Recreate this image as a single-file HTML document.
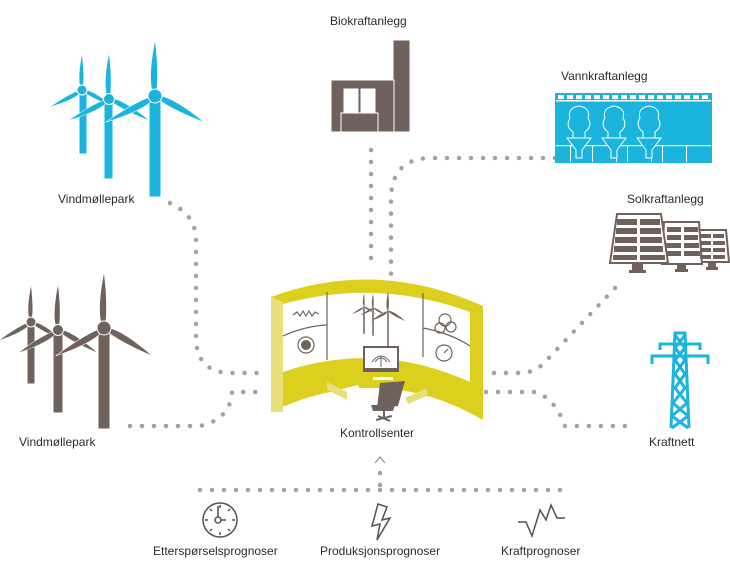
<!DOCTYPE html>
<html><head><meta charset="utf-8"><style>
html,body{margin:0;padding:0;background:#fff;}
svg{display:block;}
text{font-family:"Liberation Sans",sans-serif;font-size:12px;fill:#2f2a28;}
</style></head><body>
<svg width="730" height="572" viewBox="0 0 730 572" xmlns="http://www.w3.org/2000/svg">
<defs>
<path id="bl" d="M0,0 C-12,-12 -9,-55 0,-100 C6,-55 6,-12 0,0Z"/>
</defs>
<g fill="none" stroke="#a8a09c" stroke-width="4.5" stroke-linecap="round" stroke-dasharray="0 12">
<path d="M170,203 Q196,215 196,240 L196,337 Q196,373 232,373 L266,373"/>
<path d="M130,426 L200,426 Q228,420 232,395 L232,392 L266,392"/>
<path d="M371,150 L371,268"/>
<path d="M555,158 L428,158 Q391,160 391,200 L391,276"/>
<path d="M615,288 L545,362 Q535,373 520,373 L486,373"/>
<path d="M486,392 L535,392 Q555,398 565,426 L632,426"/>
<path d="M200,490 L570,490"/>
<path d="M380,485 L380,466"/>
</g>
<path d="M375,463 L380,457 L385,463" fill="none" stroke="#a8a09c" stroke-width="1.5"/>

<g fill="#1ab4dc" stroke="#fff" stroke-width="1">
<rect x="79" y="88" width="8" height="66"/>
<g transform="translate(82,90)"><use href="#bl" transform="scale(0.36)"/><use href="#bl" transform="rotate(-118) scale(0.36)"/><use href="#bl" transform="rotate(118) scale(0.36)"/></g>
<circle cx="82" cy="90" r="5"/>
<rect x="104" y="97" width="9" height="82"/>
<g transform="translate(109,99)"><use href="#bl" transform="scale(0.46)"/><use href="#bl" transform="rotate(-118) scale(0.46)"/><use href="#bl" transform="rotate(118) scale(0.46)"/></g>
<circle cx="109" cy="99" r="5.5"/>
<rect x="149" y="95" width="12" height="102"/>
<g transform="translate(155,96)"><use href="#bl" transform="scale(0.56)"/><use href="#bl" transform="rotate(-118) scale(0.56)"/><use href="#bl" transform="rotate(118) scale(0.56)"/></g>
<circle cx="155" cy="96" r="7"/>
</g>
<text x="58" y="203">Vindmøllepark</text>

<g fill="#6f625d" stroke="#fff" stroke-width="1">
<rect x="27" y="320" width="8" height="64"/>
<g transform="translate(31,322)"><use href="#bl" transform="scale(0.37)"/><use href="#bl" transform="rotate(-120) scale(0.37)"/><use href="#bl" transform="rotate(120) scale(0.37)"/></g>
<circle cx="31" cy="322" r="5"/>
<rect x="53" y="330" width="10" height="83"/>
<g transform="translate(58,330)"><use href="#bl" transform="scale(0.46)"/><use href="#bl" transform="rotate(-120) scale(0.46)"/><use href="#bl" transform="rotate(120) scale(0.46)"/></g>
<circle cx="58" cy="330" r="5.5"/>
<rect x="98" y="328" width="12" height="101"/>
<g transform="translate(104,328)"><use href="#bl" transform="scale(0.56)"/><use href="#bl" transform="rotate(-120) scale(0.56)"/><use href="#bl" transform="rotate(120) scale(0.56)"/></g>
<circle cx="104" cy="328" r="7"/>
</g>
<text x="19" y="446">Vindmøllepark</text>

<text x="330" y="25">Biokraftanlegg</text>
<g fill="#6f625d" stroke="#fff" stroke-width="1">
<rect x="393" y="40" width="17" height="92"/>
<rect x="331" y="80" width="63" height="52"/>
<rect x="344" y="89" width="14" height="28" fill="#fff"/>
<rect x="361" y="89" width="14" height="28" fill="#fff"/>
<rect x="341" y="113" width="37" height="19"/>
</g>

<text x="561" y="80">Vannkraftanlegg</text>
<rect x="555" y="93" width="157" height="70" fill="#1ab4dc"/>
<g fill="#fff">
<rect x="556" y="100" width="155" height="1.5"/>
<rect x="556" y="145" width="155" height="1.2"/>
<rect x="570" y="146" width="1" height="16"/><rect x="592" y="146" width="1" height="16"/><rect x="616" y="146" width="1" height="16"/><rect x="627" y="146" width="1" height="16"/><rect x="651" y="146" width="1" height="16"/><rect x="662" y="146" width="1" height="16"/><rect x="686" y="146" width="1" height="16"/>
</g>
<g fill="#fff">
<rect x="558" y="95" width="6" height="4"/><rect x="567" y="95" width="6" height="4"/><rect x="576" y="95" width="6" height="4"/><rect x="585" y="95" width="6" height="4"/><rect x="594" y="95" width="6" height="4"/><rect x="603" y="95" width="6" height="4"/><rect x="612" y="95" width="6" height="4"/><rect x="621" y="95" width="6" height="4"/><rect x="630" y="95" width="6" height="4"/><rect x="639" y="95" width="6" height="4"/><rect x="648" y="95" width="6" height="4"/><rect x="657" y="95" width="6" height="4"/><rect x="666" y="95" width="6" height="4"/><rect x="675" y="95" width="6" height="4"/><rect x="684" y="95" width="6" height="4"/><rect x="693" y="95" width="6" height="4"/><rect x="702" y="95" width="6" height="4"/>
</g>
<g fill="none" stroke="#fff" stroke-width="1">
<path d="M573,140 L573,132 Q565,126 570,118 Q567,108 579,106 Q591,108 588,118 Q593,126 585,132 L585,140"/>
<path d="M608,140 L608,132 Q600,126 605,118 Q602,108 614,106 Q626,108 623,118 Q628,126 620,132 L620,140"/>
<path d="M643,140 L643,132 Q635,126 640,118 Q637,108 649,106 Q661,108 658,118 Q663,126 655,132 L655,140"/>
</g>
<g>
<path d="M567,138 L591,138 L582,150 L582,158 L576,158 L576,150Z" fill="#1ab4dc" stroke="#fff"/>
<path d="M602,138 L626,138 L617,150 L617,158 L611,158 L611,150Z" fill="#1ab4dc" stroke="#fff"/>
<path d="M637,138 L661,138 L652,150 L652,158 L646,158 L646,150Z" fill="#1ab4dc" stroke="#fff"/>
</g>

<text x="627" y="203">Solkraftanlegg</text>
<g stroke="#6f625d" stroke-width="2" fill="#fff">
<path d="M698,230 L726,230 L729,262 L697,262Z"/>
<path d="M664,222 L699,222 L702,264 L662,264Z"/>
<path d="M617,214 L661,214 L668,263 L610,263Z"/>
</g>
<g fill="#6f625d">
<rect x="617" y="219" width="20" height="6"/><rect x="640" y="219" width="20" height="6"/>
<rect x="616" y="228" width="21" height="6"/><rect x="640" y="228" width="21" height="6"/>
<rect x="615" y="237" width="22" height="6"/><rect x="640" y="237" width="22" height="6"/>
<rect x="614" y="246" width="23" height="6"/><rect x="640" y="246" width="23" height="6"/>
<rect x="613" y="255" width="24" height="5"/><rect x="640" y="255" width="25" height="5"/>
<rect x="667" y="227" width="14" height="5"/><rect x="684" y="227" width="14" height="5"/>
<rect x="667" y="235" width="14" height="5"/><rect x="684" y="235" width="14" height="5"/>
<rect x="666" y="243" width="15" height="5"/><rect x="684" y="243" width="15" height="5"/>
<rect x="666" y="251" width="15" height="5"/><rect x="684" y="251" width="16" height="5"/>
<rect x="700" y="234" width="11" height="4"/><rect x="713" y="234" width="11" height="4"/>
<rect x="700" y="241" width="11" height="4"/><rect x="713" y="241" width="12" height="4"/>
<rect x="700" y="248" width="11" height="4"/><rect x="713" y="248" width="12" height="4"/>
<rect x="700" y="255" width="11" height="4"/><rect x="713" y="255" width="12" height="4"/>
<rect x="632" y="263" width="11" height="9"/><rect x="629" y="270" width="17" height="3"/>
<rect x="677" y="264" width="9" height="7"/><rect x="675" y="269" width="13" height="3"/>
<rect x="708" y="262" width="8" height="7"/><rect x="706" y="267" width="12" height="3"/>
</g>

<g fill="none" stroke="#1ab4dc" stroke-width="3">
<path d="M671,428 L675,333 L685,333 L689,428"/>
<path d="M675,335 L685,348 L675,360 L685,374 L675,388 L687,403 L672,416 L688,428"/>
<path d="M685,335 L675,348 L685,360 L675,374 L685,388 L673,403 L688,416 L672,428"/>
<path d="M652,364 L652,356 L708,356 L708,364"/>
<path d="M660,350 L660,344 L700,344 L700,350"/>
</g>
<text x="649" y="446">Kraftnett</text>

<path d="M271,297 Q377,258 483,306 L483,420 Q380,360 271,412Z" fill="#dccf1e"/>
<path d="M271,297 L283,302 L283,412 L271,412Z" fill="#e8df7c"/>
<path d="M283,304 Q377,278 470,312 L470,382 Q377,340 283,372Z" fill="#fff"/>
<g stroke="#6f625d" stroke-width="1.2" fill="none">
<path d="M327,292 L327,360"/>
<path d="M423,293 L423,357"/>
<path d="M283,336 Q305,326 327,325"/>
<path d="M423,328 Q450,333 470,346"/>
<path d="M293,315 l4,-3 l3,4 l3,-5 l3,5 l3,-5 l3,5 l3,-4 l4,2"/>
<circle cx="306" cy="345" r="8"/>
<circle cx="445" cy="320" r="6"/><circle cx="440" cy="328" r="5"/><circle cx="451" cy="327" r="5"/>
<circle cx="444" cy="353" r="8"/>
<path d="M444,353 l4,-4"/>
</g>
<circle cx="306" cy="345" r="5" fill="#6f625d"/>
<g fill="#6f625d" stroke="#fff" stroke-width="0.5">
<rect x="363" y="306" width="2" height="28"/>
<g transform="translate(364,307)"><use href="#bl" transform="scale(0.14)"/><use href="#bl" transform="rotate(-120) scale(0.14)"/><use href="#bl" transform="rotate(120) scale(0.14)"/></g>
<rect x="372" y="306" width="2" height="30"/>
<g transform="translate(373,308)"><use href="#bl" transform="scale(0.15)"/><use href="#bl" transform="rotate(-120) scale(0.15)"/><use href="#bl" transform="rotate(120) scale(0.15)"/></g>
<rect x="387" y="310" width="2" height="38"/>
<g transform="translate(388,311)"><use href="#bl" transform="scale(0.2)"/><use href="#bl" transform="rotate(-120) scale(0.2)"/><use href="#bl" transform="rotate(120) scale(0.2)"/></g>
</g>
<rect x="363" y="346" width="36" height="26" fill="#6f625d"/>
<rect x="365" y="348" width="32" height="20" fill="#fff"/>
<path d="M372,362 Q381,350 390,362 M375,362 Q381,354 387,362 M381,356 L381,367" stroke="#6f625d" stroke-width="1" fill="none"/>
<path d="M373,377 L393,377 L393,380 L373,380Z" fill="#fff"/>
<path d="M338,390 L358,385 L362,394 L340,399Z" fill="#fff"/>
<path d="M327,382 L347,392 L347,400 L327,390Z" fill="#e8df7c"/>
<path d="M405,398 L427,388 L427,396 L408,404Z" fill="#e8df7c"/>
<path d="M380,383 L405,381 L398,406 L377,408Z" fill="#6f625d"/>
<path d="M371,405 L395,405 L393,411 L373,411Z" fill="#6f625d"/>
<path d="M384,411 L384,418 M376,420 L392,416 M378,416 L390,421" stroke="#6f625d" stroke-width="2"/>
<text x="340" y="437">Kontrollsenter</text>

<g stroke="#5a4f4b" stroke-width="1.5" fill="none">
<circle cx="220" cy="520" r="17"/>
<circle cx="218" cy="520" r="3"/>
<path d="M218,517 L218,506 M221,520 L226,520"/>
<path d="M220,505 l0,3 M235,520 l-3,0 M205,520 l3,0 M220,535 l0,-3 M230,509 l-2,2 M210,509 l2,2 M230,531 l-2,-2 M210,531 l2,-2"/>
<path d="M378,504 L387,507 L382,520 L390,518 L377,540 L380,524 L372,526Z"/>
<path d="M518,522 L526,522 L532,536 L540,510 L546,520 L551,505 L557,518 L565,518"/>
</g>
<text x="153" y="555">Etterspørselsprognoser</text>
<text x="320" y="555">Produksjonsprognoser</text>
<text x="501" y="555">Kraftprognoser</text>
</svg>
</body></html>
